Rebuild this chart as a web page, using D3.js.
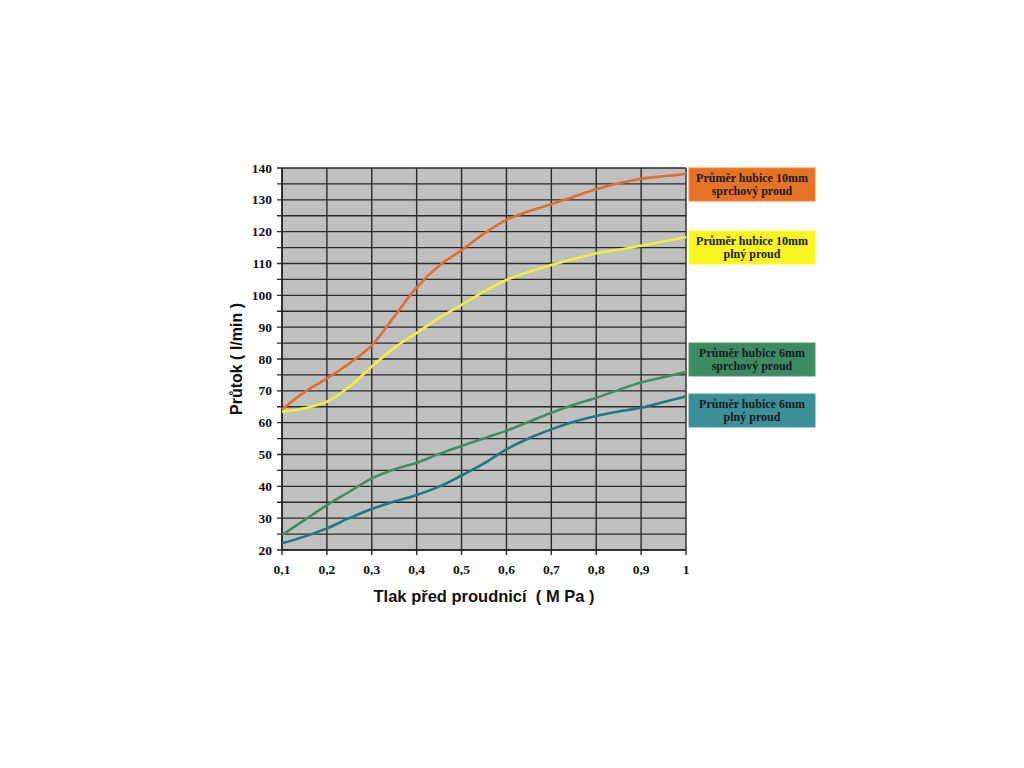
<!DOCTYPE html>
<html><head><meta charset="utf-8">
<script src="https://cdn.jsdelivr.net/npm/d3@7"></script>
<style>body{margin:0;background:#fff} text{white-space:pre}</style>
</head><body>
<svg id="c" width="1024" height="768"></svg>
<script>
const pressures = [0.1,0.15,0.2,0.25,0.3,0.35,0.4,0.45,0.5,0.55,0.6,0.65,0.7,0.75,0.8,0.85,0.9,0.95,1.0];
const orange10Spray = [64.2,69.6,73.9,78.6,84.3,93.3,102.5,109.3,114.2,119.4,123.7,126.4,128.6,131.0,133.3,135.2,136.6,137.4,138.1];
const yellow10Full  = [63.4,64.5,66.6,71.3,77.6,83.5,88.2,92.9,97.0,101.2,104.8,107.4,109.5,111.4,113.2,114.3,115.6,116.9,118.3];
const green6Spray   = [24.7,29.4,34.1,38.3,42.5,45.3,47.4,50.2,52.7,55.1,57.5,60.3,63.1,65.6,67.8,70.3,72.6,74.3,75.9];
const teal6Full     = [22.1,24.2,26.8,30.0,32.9,35.2,37.3,39.9,43.4,47.2,51.6,55.1,57.9,60.3,62.1,63.5,64.7,66.5,68.2];
const seriesNames = [["Průměr hubice 10mm","sprchový proud"],["Průměr hubice 10mm","plný proud"],["Průměr hubice 6mm","sprchový proud"],["Průměr hubice 6mm","plný proud"]];
const lineColors = ["#e06e2c","#f2ee3c","#3e9064","#1e7a82"];
const boxColors = ["#e57325","#f8f322","#3d8b63","#3b8f98"];
const xTicks = [0.1,0.2,0.3,0.4,0.5,0.6,0.7,0.8,0.9,1];
const xTickLabels = ["0,1","0,2","0,3","0,4","0,5","0,6","0,7","0,8","0,9","1"];
const yTicks = [20,30,40,50,60,70,80,90,100,110,120,130,140];
const yGrid = d3.range(20,141,5);
const xTitle = "Tlak před proudnicí  ( M Pa )";
const yTitle = "Průtok ( l/min )";

const svg = d3.select("#c");
const L=282,R=686,T=168,B=550;
const x = d3.scaleLinear().domain([0.1,1]).range([L,R]);
const y = d3.scaleLinear().domain([20,140]).range([B,T]);

svg.append("rect").attr("x",L).attr("y",T).attr("width",R-L).attr("height",B-T).attr("fill","#c0c0c0");
svg.append("g").selectAll("line").data(yGrid).join("line")
  .attr("x1",L-5).attr("x2",R).attr("y1",d=>y(d)).attr("y2",d=>y(d))
  .attr("stroke","#2a2a2a").attr("stroke-width",1.4);
svg.append("g").selectAll("line").data(xTicks).join("line")
  .attr("x1",d=>x(d)).attr("x2",d=>x(d)).attr("y1",T).attr("y2",B+5)
  .attr("stroke","#2a2a2a").attr("stroke-width",1.4);
svg.append("line").attr("x1",L).attr("x2",L).attr("y1",T).attr("y2",B).attr("stroke","#222").attr("stroke-width",1.5);
svg.append("line").attr("x1",L).attr("x2",R).attr("y1",B).attr("y2",B).attr("stroke","#222").attr("stroke-width",1.5);

svg.append("g").selectAll("text").data(yTicks).join("text")
  .attr("x",L-10).attr("y",d=>y(d)+4.5).attr("text-anchor","end")
  .attr("font-family","Liberation Serif, Times New Roman, serif").attr("font-weight","bold").attr("font-size",13.5)
  .attr("fill","#111").text(d=>d);
svg.append("g").selectAll("text").data(xTicks).join("text")
  .attr("x",d=>x(d)).attr("y",B+24).attr("text-anchor","middle")
  .attr("font-family","Liberation Serif, Times New Roman, serif").attr("font-weight","bold").attr("font-size",13.5)
  .attr("fill","#111").text((d,i)=>xTickLabels[i]);

svg.append("text").attr("x",(L+R)/2).attr("y",602).attr("text-anchor","middle")
  .attr("font-family","Liberation Sans, Arial, sans-serif").attr("font-weight","bold").attr("font-size",16.5)
  .attr("fill","#111").text(xTitle);
svg.append("text").attr("transform",`translate(242,${(T+B)/2}) rotate(-90)`).attr("text-anchor","middle")
  .attr("font-family","Liberation Sans, Arial, sans-serif").attr("font-weight","bold").attr("font-size",16)
  .attr("fill","#111").text(yTitle);

const allSeries=[orange10Spray,yellow10Full,green6Spray,teal6Full];
const line = d3.line().x((d,i)=>x(pressures[i])).y(d=>y(d)).curve(d3.curveCatmullRom);
svg.append("g").selectAll("path").data(allSeries).join("path")
  .attr("d",line).attr("fill","none").attr("stroke",(d,i)=>lineColors[i]).attr("stroke-width",2.6);

const boxY=[168,231,343,394];
const lg = svg.append("g").selectAll("g").data(seriesNames).join("g")
  .attr("transform",(d,i)=>`translate(689,${boxY[i]})`);
lg.append("rect").attr("width",126).attr("height",33).attr("fill",(d,i)=>boxColors[i])
  .attr("stroke",(d,i)=>d3.color(boxColors[i]).brighter(0.3)).attr("stroke-width",1);
lg.append("text").attr("x",63).attr("y",14).attr("text-anchor","middle")
  .attr("font-family","Liberation Serif, Times New Roman, serif").attr("font-weight","bold").attr("font-size",12)
  .attr("fill","#1a1a1a").text(d=>d[0]);
lg.append("text").attr("x",63).attr("y",27).attr("text-anchor","middle")
  .attr("font-family","Liberation Serif, Times New Roman, serif").attr("font-weight","bold").attr("font-size",12)
  .attr("fill","#1a1a1a").text(d=>d[1]);
</script>
</body></html>
